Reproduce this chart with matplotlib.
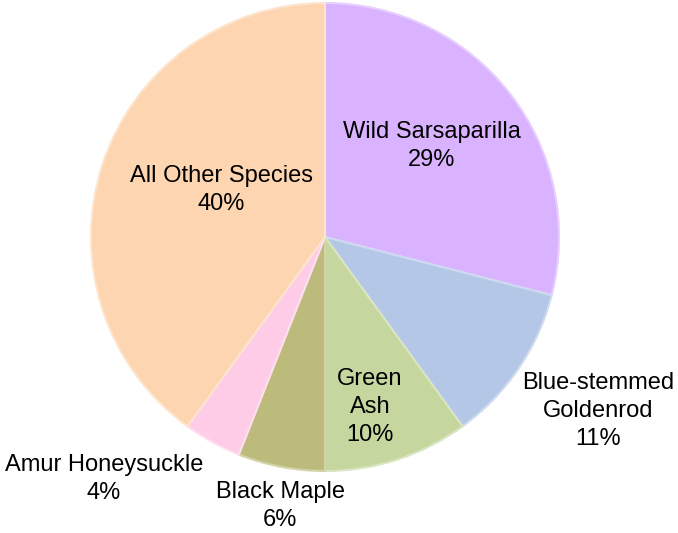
import matplotlib.pyplot as plt
import matplotlib.colors as mcolors

plt.rcParams['font.family'] = ['Liberation Sans', 'DejaVu Sans']

species = ['Wild Sarsaparilla', 'Blue-stemmed\nGoldenrod', 'Green\nAsh',
           'Black Maple', 'Amur Honeysuckle', 'All Other Species']
shares = [29, 11, 10, 6, 4, 40]
colors = ['#D9B3FF', '#B4C7E7', '#C5D79F', '#BDBB7B', '#FFCCE8', '#FDD5B1']

# label anchor points in figure pixels (x, y from top)
label_pos = [(432, 146), (598, 411), (370, 407),
             (280, 506), (104, 479), (221, 190)]

W, H = 678, 533
fig = plt.figure(figsize=(W / 100, H / 100), dpi=100)
ax = fig.add_axes([0, 0, 1, 1])

wedges, _ = ax.pie(shares, colors=colors, startangle=90, counterclock=False,
                   center=(325, H - 237), radius=234, frame=True)
ax.set_xlim(0, W)
ax.set_ylim(0, H)
ax.axis('off')

# slightly lighter rim on each slice
for w, c in zip(wedges, colors):
    rgb = mcolors.to_rgb(c)
    light = tuple(v + (1 - v) * 0.35 for v in rgb)
    w.set_edgecolor(light)
    w.set_linewidth(1.5)

for name, pct, (x, y) in zip(species, shares, label_pos):
    ax.text(x, H - y, f'{name}\n{pct}%', ha='center', va='center',
            fontsize=17, linespacing=1.38, color='black')

fig.savefig('out.png', dpi=100)
